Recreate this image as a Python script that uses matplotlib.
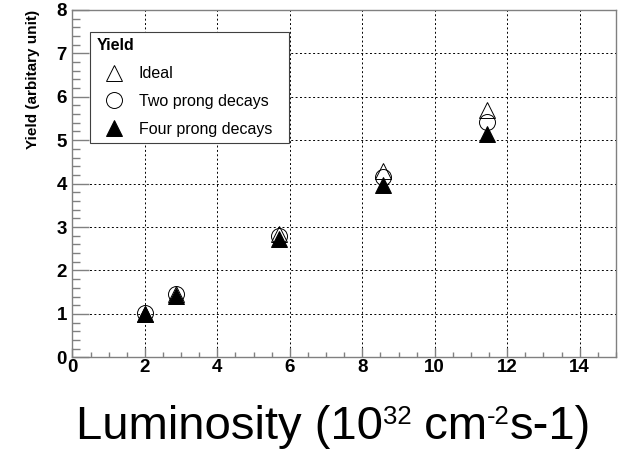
import numpy as np
import matplotlib.pyplot as plt
from matplotlib.lines import Line2D
from matplotlib.ticker import MultipleLocator

plt.rcParams['font.family'] = ['Liberation Sans', 'DejaVu Sans']

# luminosity values and yields
lumi = [2.0, 2.85, 5.7, 8.57, 11.43]
ideal = [1.0, 1.45, 2.85, 4.28, 5.70]
two_prong = [1.03, 1.45, 2.80, 4.15, 5.43]
four_prong = [1.0, 1.42, 2.72, 3.96, 5.15]

labels = ['Ideal', 'Two prong decays', 'Four prong decays']
x_ticks = [0, 2, 4, 6, 8, 10, 12, 14]
y_ticks = [0, 1, 2, 3, 4, 5, 6, 7, 8]

W, H = 619, 450
fig = plt.figure(figsize=(W / 100, H / 100), dpi=100)
ax = fig.add_axes([0.117, 0.206, 0.878, 0.772])

frame = '#808080'
ax.plot(lumi, ideal, ls='none', marker='^', ms=11, mfc='none', mec='black', mew=0.7, zorder=3)
ax.plot(lumi, two_prong, ls='none', marker='o', ms=11.5, mfc='none', mec='black', mew=0.7, zorder=4)
ax.plot(lumi, four_prong, ls='none', marker='^', ms=11, mfc='black', mec='black', mew=0.7, zorder=5)

ax.set_xlim(0, 15)
ax.set_ylim(0, 8)
ax.set_xticks(x_ticks)
ax.set_yticks(y_ticks)
ax.xaxis.set_minor_locator(MultipleLocator(0.5))
ax.yaxis.set_minor_locator(MultipleLocator(0.2))
ax.grid(True, which='major', color='black', ls=(0, (2, 2.5)), lw=0.7)

for s in ax.spines.values():
    s.set_color(frame)
    s.set_linewidth(1.0)
ax.tick_params(axis='both', which='both', direction='in', color=frame, width=1.0)
ax.tick_params(axis='x', which='major', length=6.5, pad=1)
ax.tick_params(axis='x', which='minor', length=3.3)
ax.tick_params(axis='y', which='major', length=12, pad=4)
ax.tick_params(axis='y', which='minor', length=6)
for lab in ax.get_xticklabels() + ax.get_yticklabels():
    lab.set_fontweight('bold')
    lab.set_fontsize(13.5)

ax.set_ylabel('Yield (arbitary unit)', fontsize=11, fontweight='bold', loc='top', labelpad=12)

# x title built from pieces so the superscripts sit like in the original
big, small = 34, 18.5
rise = 0.716 * (big - small)  # points, top of superscript at cap height
pieces = [('Luminosity (10', big, 0), ('32', small, rise), (' cm', big, 0),
          ('-2', small, rise), ('s-1)', big, 0)]
renderer = fig.canvas.get_renderer()
texts = []
xpos = 0.0
for txt, size, dy in pieces:
    t = fig.text(xpos / W, (11 + dy * 100 / 72) / H, txt, fontsize=size,
                 ha='left', va='baseline')
    bb = t.get_window_extent(renderer)
    texts.append(t)
    xpos = bb.x1
shift = 333.5 - xpos / 2
for t in texts:
    x, y = t.get_position()
    t.set_position((x + shift / W, y))

handles = [
    Line2D([], [], ls='none', marker='^', ms=11, mfc='none', mec='black', mew=0.7),
    Line2D([], [], ls='none', marker='o', ms=11.5, mfc='none', mec='black', mew=0.7),
    Line2D([], [], ls='none', marker='^', ms=11, mfc='black', mec='black', mew=0.7),
]
leg = ax.legend(handles, labels, title='Yield', loc='upper left',
                bbox_to_anchor=(90 / W, 1 - 140 / H, 199 / W, 108 / H),
                bbox_transform=fig.transFigure, mode='expand',
                fontsize=11.5, title_fontproperties={'weight': 'bold', 'size': 11.5},
                alignment='left', fancybox=False, edgecolor='#404040', framealpha=1,
                borderpad=0.4, labelspacing=0.8, handletextpad=0.45, handlelength=2.2,
                borderaxespad=0)
leg.get_frame().set_linewidth(0.8)
leg.set_zorder(6)

fig.savefig('out.png', dpi=100)
